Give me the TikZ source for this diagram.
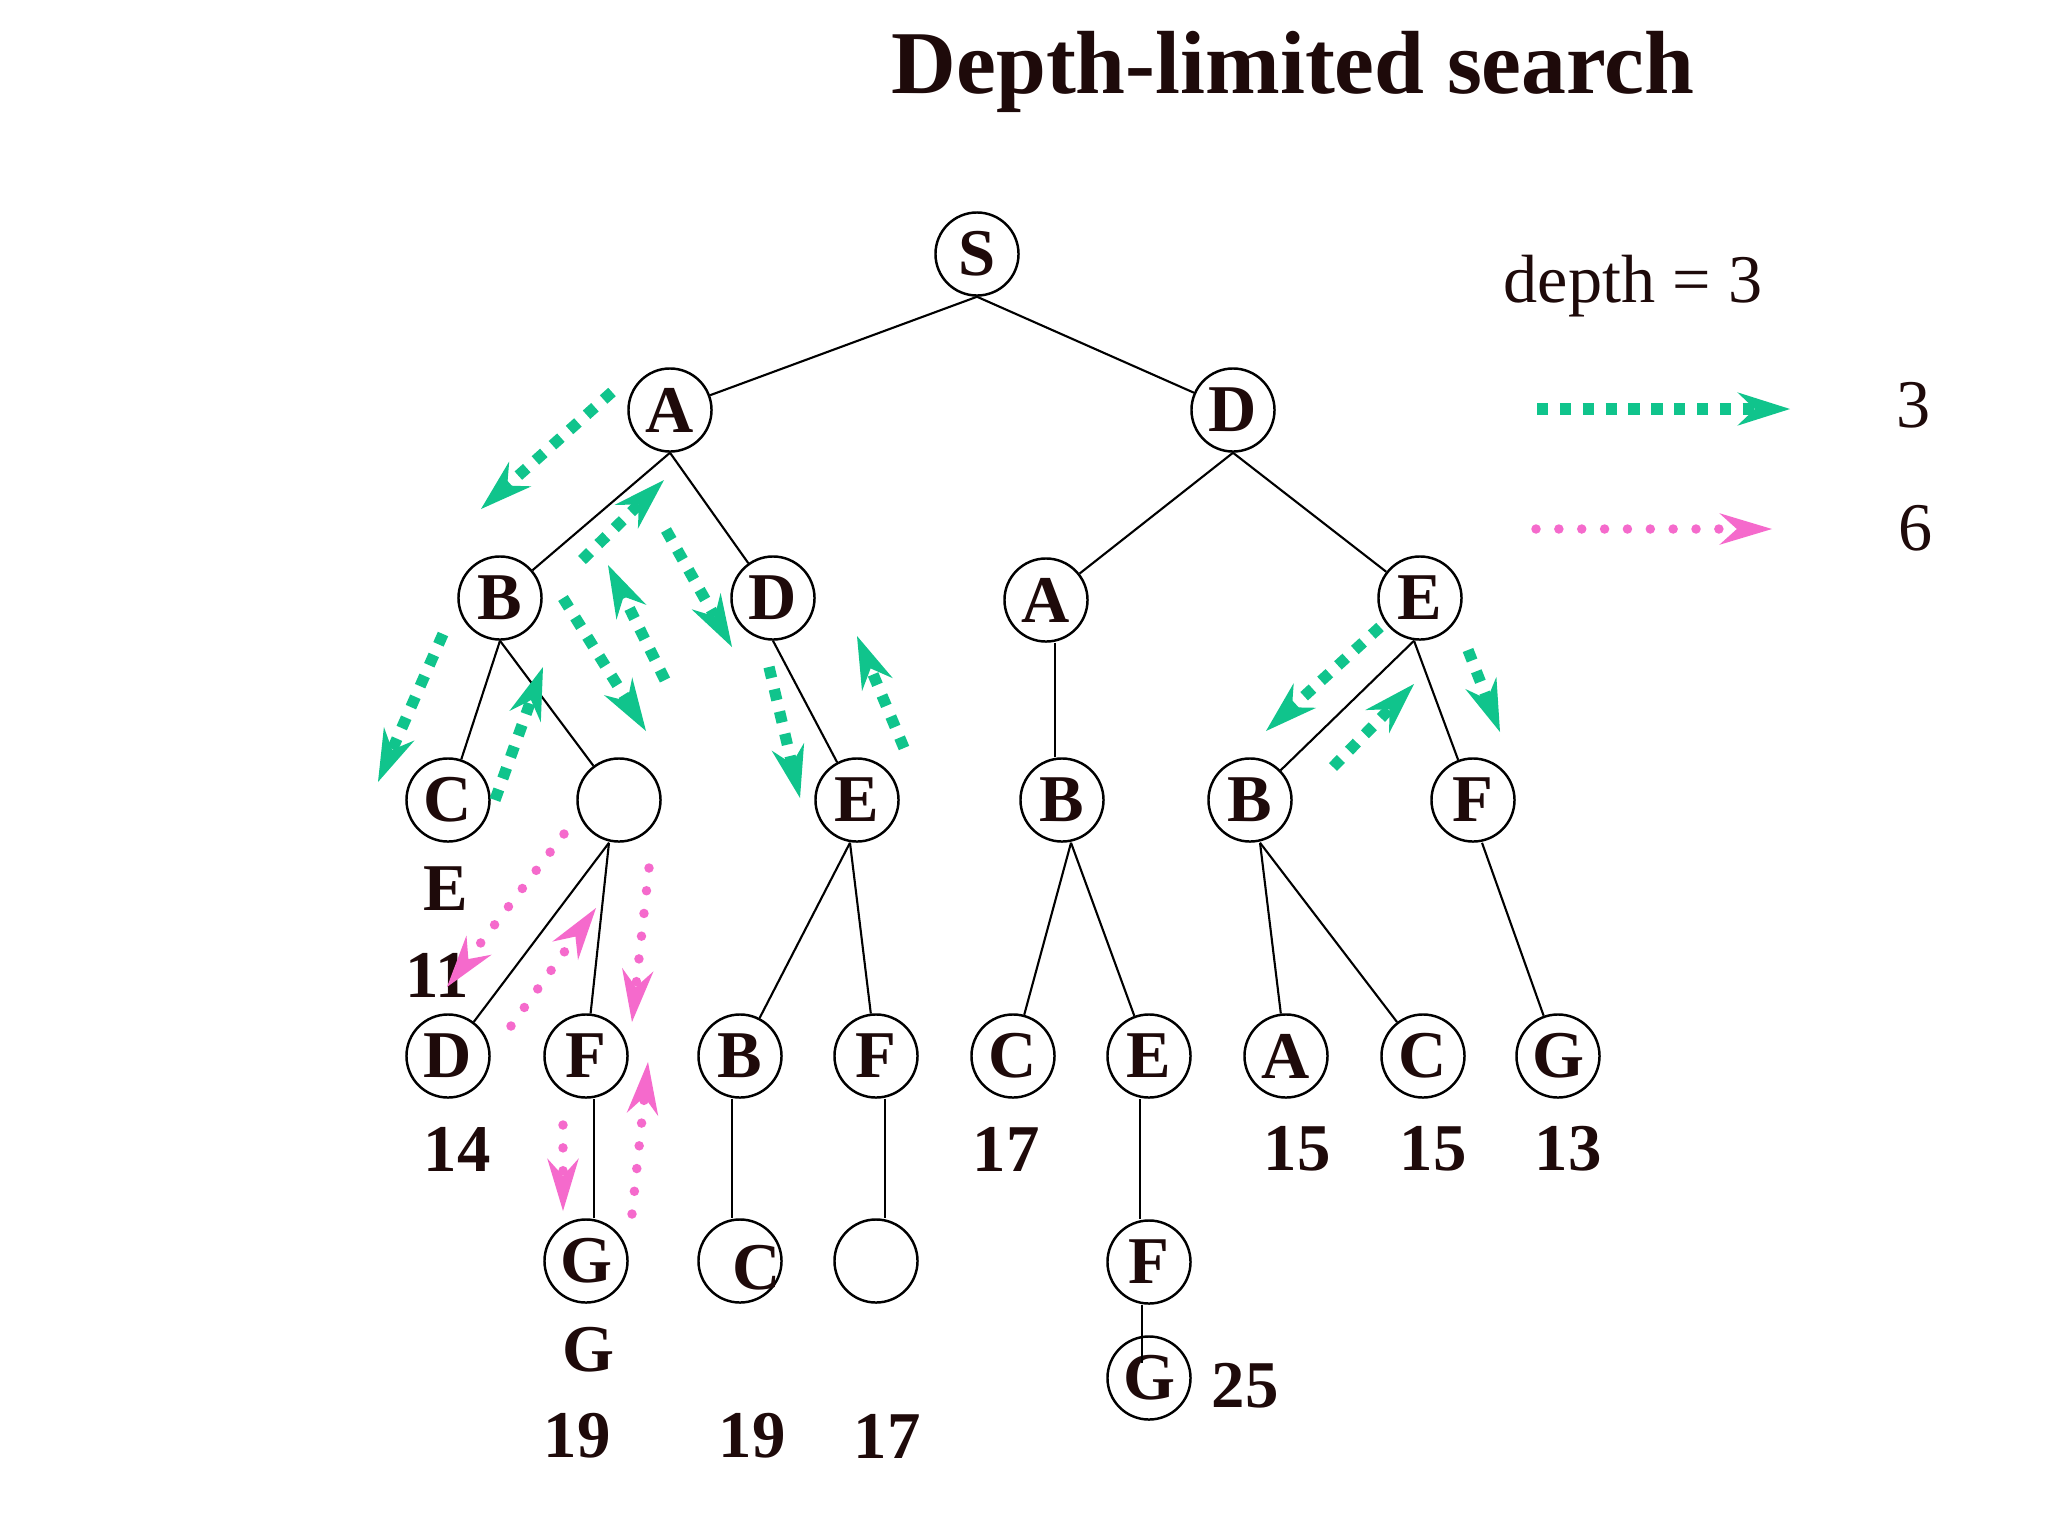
\documentclass[tikz,border=0pt]{standalone}
\usepackage{fontspec}
\setmainfont{Liberation Serif}
\usetikzlibrary{arrows.meta}

\definecolor{trgreen}{RGB}{16,196,140}
\definecolor{trpink}{RGB}{245,106,204}
\definecolor{ink}{RGB}{30,10,10}

\begin{document}
\begin{tikzpicture}[x=0.01cm, y=-0.01cm,
    vtx/.style={draw, circle, minimum size=0.83cm, inner sep=0pt, line width=0.7pt,
        font=\fontsize{19}{19}\selectfont\bfseries, text=ink},
    lbl/.style={font=\fontsize{19}{19}\selectfont\bfseries, text=ink, inner sep=0pt},
    plain/.style={font=\fontsize{19.4}{19.4}\selectfont, text=ink, inner sep=0pt},
    edge/.style={draw, line width=0.6pt},
    grn/.style={draw=trgreen, line width=3.2pt, dash pattern=on 3.2pt off 3.3pt,
        -{Stealth[length=15pt, width=9.5pt, inset=5pt, line width=0pt, fill=trgreen]}},
    pnk/.style={draw=trpink, line width=2.7pt, line cap=round, dash pattern=on 0pt off 6.5pt,
        -{Stealth[length=15pt, width=9pt, inset=5pt, line width=0pt, fill=trpink]}}]
    \fill[white] (0,0) rectangle (2048,1536);
    \useasboundingbox (0,0) rectangle (2048,1536);

    % title and legend
    \node[font=\fontsize{25.5}{25.5}\selectfont\bfseries, text=ink, anchor=base] (title) at (1293,93) {Depth-limited search};
    \node[plain] (depth) at (1633,286) {depth = 3};
    \node[plain] (leg3) at (1914,405) {3};
    \node[plain] (leg6) at (1916,528) {6};
    \coordinate (lga) at (1537,409);
    \coordinate (lgb) at (1790,409);
    \coordinate (lpa) at (1536,529);
    \coordinate (lpb) at (1772,529);
    \draw[grn] (lga) -- (lgb);
    \draw[pnk] (lpa) -- (lpb);

    % tree
    \node[vtx] (S) at (977,254) {S};
    \node[vtx] (A) at (670,410) {A};
    \node[vtx] (D) at (1233,410) {D};
    \node[vtx] (AB) at (500,598) {B};
    \node[vtx] (AD) at (773,598) {D};
    \node[vtx] (DA) at (1046,600) {A};
    \node[vtx] (DE) at (1420,598) {E};
    \node[vtx] (ABC) at (448,800) {C};
    \node[vtx] (ABE) at (619,800) {};
    \node[vtx] (ADE) at (857,800) {E};
    \node[vtx] (DAB) at (1062,800) {B};
    \node[vtx] (DEB) at (1250,800) {B};
    \node[vtx] (DEF) at (1473,800) {F};
    \node[vtx] (ABED) at (448,1056) {D};
    \node[vtx] (ABEF) at (586,1056) {F};
    \node[vtx] (ADEB) at (740,1056) {B};
    \node[vtx] (ADEF) at (876,1056) {F};
    \node[vtx] (DABC) at (1013,1056) {C};
    \node[vtx] (DABE) at (1149,1056) {E};
    \node[vtx] (DEBA) at (1286,1056) {A};
    \node[vtx] (DEBC) at (1423,1056) {C};
    \node[vtx] (DEFG) at (1558,1056) {G};
    \node[vtx] (ABEFG) at (586,1261) {G};
    \node[vtx, label={[lbl, xshift=0.17cm, yshift=-0.07cm]center:C}] (ADEBC) at (740,1261) {};
    \node[vtx] (ADEFX) at (876,1261) {};
    \node[vtx] (DABEF) at (1149,1262) {F};
    \node[vtx] (DABEFG) at (1149,1378) {G};

    \foreach \p/\c/\dx in {S/A/0, S/D/0, A/AB/0, A/AD/0, D/DA/0, D/DE/0, AB/ABC/0, AB/ABE/0,
        AD/ADE/0, DE/DEB/-0.06, DE/DEF/-0.06, ABE/ABED/-0.1, ABE/ABEF/-0.1, ADE/ADEB/-0.07,
        ADE/ADEF/-0.07, DAB/DABC/0.09, DAB/DABE/0.09, DEB/DEBA/0.1, DEB/DEBC/0.1, DEF/DEFG/0.09}
        \draw[edge] ([xshift=\dx cm]\p.south) -- (\c);
    \foreach \p/\c/\dx in {ABEF/ABEFG/0.08, ADEB/ADEBC/-0.08, ADEF/ADEFX/0.09, DABE/DABEF/-0.09}
        \draw[edge] ([xshift=\dx cm]\p.south) -- ([xshift=\dx cm]\c.north);
    \draw[edge] ([xshift=-0.07cm]DAB.north |- DA.south) -- ([xshift=-0.07cm]DAB.north);
    \draw[edge] ([xshift=-0.07cm]DABEF.south) -- ([xshift=-0.07cm, yshift=-0.28cm]DABEFG.north);

    % costs
    \node[lbl] (lE) at (446,889) {E};
    \node[lbl] (l11) at (437,975) {11};
    \node[lbl] (l14) at (457,1149) {14};
    \node[lbl] (l17a) at (1006,1149) {17};
    \node[lbl] (l15a) at (1297,1149) {15};
    \node[lbl] (l15b) at (1433,1149) {15};
    \node[lbl] (l13) at (1568,1149) {13};
    \node[lbl] (lG) at (588,1350) {G};
    \node[lbl] (l19a) at (577,1436) {19};
    \node[lbl] (l19b) at (752,1436) {19};
    \node[lbl] (l17b) at (887,1436) {17};
    \node[lbl] (l25) at (1245,1386) {25};

    % search order, limit 3
    \foreach \xa/\ya/\xb/\yb [count=\i] in {612/392/481/509, 443/634/378/782, 495/800/543/667,
        563/598/646/731, 665/680/608/565, 582/560/664/480, 666/530/732/647, 769/667/800/798,
        904/748/857/636, 1380/627/1266/731, 1333/767/1414/684, 1468/650/1500/732} {
        \coordinate (g\i a) at (\xa,\ya);
        \coordinate (g\i b) at (\xb,\yb);
        \draw[grn] (g\i a) -- (g\i b);
    }
    % search order, limit 6
    \foreach \xa/\ya/\xb/\yb [count=\i] in {564/834/447/987, 511/1026/596/908, 649/868/632/1022,
        563/1125/563/1211, 632/1214/648/1062} {
        \coordinate (p\i a) at (\xa,\ya);
        \coordinate (p\i b) at (\xb,\yb);
        \draw[pnk] (p\i a) -- (p\i b);
    }
\end{tikzpicture}
\end{document}
